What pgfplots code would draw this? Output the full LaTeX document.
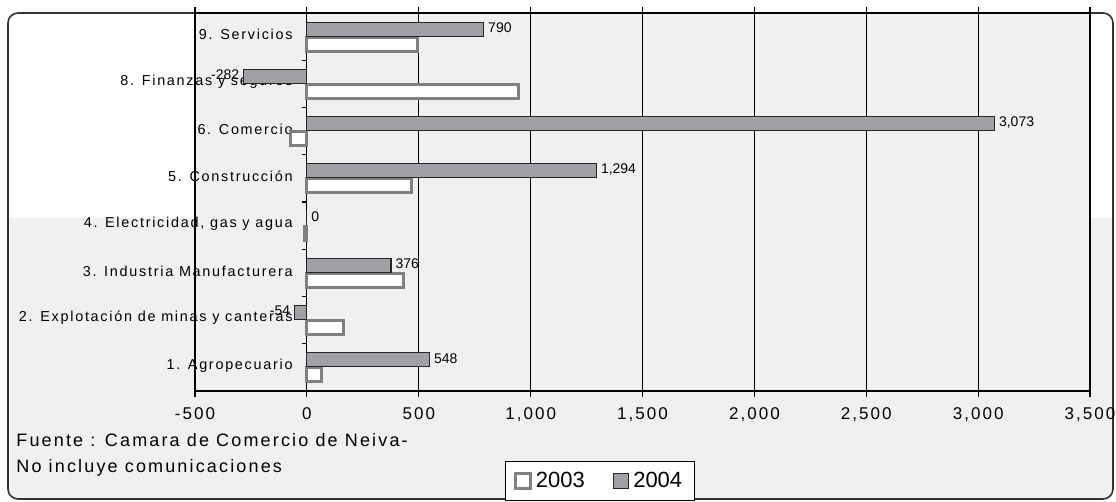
\documentclass[border=0pt]{standalone}
\usepackage{pgfplots}
\pgfplotsset{compat=1.18}
\usepackage{fontspec}
\setmainfont{Liberation Sans}
\newfontfamily\spaced[LetterSpace=12]{Liberation Sans}
\definecolor{bgc}{RGB}{240,240,240}
\definecolor{bar04}{RGB}{160,160,166}
\definecolor{edge03}{RGB}{128,128,128}
\begin{document}
\begin{tikzpicture}
\useasboundingbox (0,0) rectangle (558pt,-251pt);
\begin{scope}[x=0.5pt,y=-0.5pt]
  \fill[white] (0,0) rectangle (1116,502);
  \begin{scope}
    \clip[rounded corners=5pt] (8,13) rectangle (1113,499);
    \fill[bgc] (0,218) rectangle (1116,502);
  \end{scope}
  \draw[black!80, line width=0.8pt, rounded corners=5pt] (8,13) rectangle (1113,499);
\end{scope}
\begin{axis}[
  at={(97.5pt,-195.5pt)}, anchor=south west,
  scale only axis, width=447.5pt, height=189pt,
  xbar, bar width=7pt,
  xmin=-500, xmax=3500, ymin=0.5, ymax=8.5,
  xtick={-500,0,500,1000,1500,2000,2500,3000,3500},
  ytick={1,2,3,4,5,6,7,8},
  yticklabels={1. Agropecuario,2. Explotación de minas y canteras,3. Industria Manufacturera,{4. Electricidad, gas y agua},5. Construcción,6. Comercio,8. Finanzas y seguros,9. Servicios},
  y tick style={draw=none},
  xmajorgrids, grid style={black, line width=0.5pt},
  axis line style={black, line width=0.7pt},
  axis background/.style={fill=bgc},
  /pgf/number format/assume math mode=true,
  /pgf/number format/1000 sep={,},
  x tick label style={font=\spaced\fontsize{8.5}{10}\selectfont, yshift=-2pt},
  xtick align=outside, major tick length=3pt,
  x tick style={black, line width=0.6pt},
  yticklabel style={anchor=east, inner sep=0pt, xshift=52pt, yshift=1pt, font=\spaced\fontsize{7.2}{8}\selectfont},
  legend style={at={(0.4525,-0.238)}, anchor=center, draw=black, line width=0.6pt, fill=white,
    font=\fontsize{11}{12}\selectfont, inner xsep=4pt, inner ysep=3pt,
    /tikz/every even column/.append style={column sep=12pt}},
  legend columns=2,
  legend image code/.code={\draw[#1] (0pt,-3.8pt) rectangle (7.6pt,3.8pt);},
]
\addplot[draw=edge03, line width=1.5pt, fill=white, bar shift=-3.75pt]
  coordinates {(66,1) (165,2) (433,3) (-12,4) (468,5) (-75,6) (946,7) (495,8)};
\addplot[draw=black!85, line width=0.6pt, fill=bar04, bar shift=3.75pt,
  point meta=x, nodes near coords, nodes near coords align=horizontal,
  every node near coord/.append style={font=\fontsize{7}{8}\selectfont, black, inner sep=2pt, yshift=0.8pt}]
  coordinates {(548,1) (-54,2) (376,3) (0,4) (1294,5) (3073,6) (-282,7) (790,8)};
\legend{2003,2004}
\pgfplotsinvokeforeach{1.5,2.5,3.5,4.5,5.5,6.5,7.5}{\draw[black, line width=0.6pt] (axis cs:0,#1) -- ++(-2.5pt,0pt);}
\end{axis}
\begin{scope}[x=0.5pt,y=-0.5pt]
  \node[anchor=base west, inner sep=0pt, font=\spaced\fontsize{9}{10}\selectfont] at (16,447) {Fuente : Camara de Comercio de Neiva-};
  \node[anchor=base west, inner sep=0pt, font=\spaced\fontsize{9}{10}\selectfont] at (16,473) {No incluye comunicaciones};
\end{scope}
\end{tikzpicture}
\end{document}
